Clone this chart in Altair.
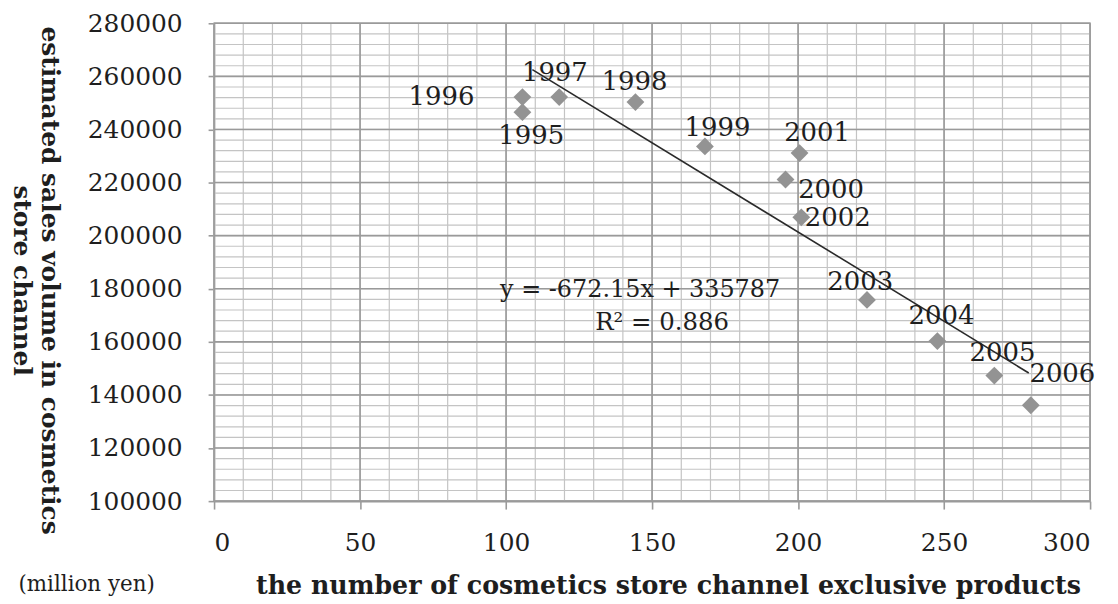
import altair as alt
import pandas as pd

years = ["1995", "1996", "1997", "1998", "1999", "2000",
         "2001", "2002", "2003", "2004", "2005", "2006"]
products = [105.6, 105.6, 118.2, 144.3, 168.1, 195.7,
            200.5, 201.1, 223.6, 247.7, 267.2, 279.7]
sales = [246500, 252200, 252200, 250300, 233600, 221150,
         231100, 206900, 175800, 160300, 147300, 136100]

# label anchor positions (data units) as placed in the original chart
label_x = [108.6, 77.9, 116.7, 144.0, 172.4, 211.3,
           206.5, 213.6, 221.3, 249.1, 270.0, 290.5]
label_y = [237600, 252200, 261200, 257800, 240700, 217100,
           238600, 206600, 182700, 169700, 155700, 147900]

slope = -672.15
intercept = 335787
trend_x = [109, 279]
eq_lines = ["y = -672.15x + 335787", "R\u00b2 = 0.886"]

x_major = [0, 50, 100, 150, 200, 250, 300]
y_major = [100000, 120000, 140000, 160000, 180000, 200000, 220000, 240000, 260000, 280000]
x_minor = list(range(0, 301, 10))
y_minor = list(range(100000, 280001, 4000))

FONT = "DejaVu Serif"
W, H = 880, 480

pts = pd.DataFrame({"year": years, "x": products, "y": sales})
lab = pd.DataFrame({"year": years, "lx": label_x, "ly": label_y})
trend = pd.DataFrame({"x": trend_x, "y": [slope * v + intercept for v in trend_x]})

xs = alt.Scale(domain=[0, 300], nice=False)
ys = alt.Scale(domain=[100000, 280000], nice=False, zero=False)

xgrid_minor = alt.Chart(pd.DataFrame({"v": x_minor})).mark_rule(
    color="#c4c4c4", strokeWidth=1.2).encode(x=alt.X("v:Q", scale=xs))
ygrid_minor = alt.Chart(pd.DataFrame({"v": y_minor})).mark_rule(
    color="#c4c4c4", strokeWidth=1.2).encode(y=alt.Y("v:Q", scale=ys))
xgrid_major = alt.Chart(pd.DataFrame({"v": x_major})).mark_rule(
    color="#9a9a9a", strokeWidth=1.6).encode(x=alt.X("v:Q", scale=xs))
ygrid_major = alt.Chart(pd.DataFrame({"v": y_major})).mark_rule(
    color="#9a9a9a", strokeWidth=1.6).encode(y=alt.Y("v:Q", scale=ys))

points = alt.Chart(pts).mark_point(
    shape="diamond", filled=True, color="#939393", size=320, opacity=1
).encode(
    x=alt.X("x:Q", scale=xs, axis=alt.Axis(
        values=x_major, title="the number of cosmetics store channel exclusive products",
        grid=False, tickSize=8, labelPadding=22,
        titleX=456, titleY=85, titleAlign="center", titleBaseline="middle",
        titleFontWeight="bold", titleFontSize=25.4)),
    y=alt.Y("y:Q", scale=ys, axis=alt.Axis(
        values=y_major, format="d", grid=False, tickSize=6, labelPadding=26,
        title=["estimated sales volume in cosmetics", "store channel"],
        titleAngle=90, titleX=-165, titleY=258, titleAlign="center",
        titleBaseline="middle", titleLineHeight=28,
        titleFontWeight="bold", titleFontSize=25)),
)

trend_line = alt.Chart(trend).mark_line(color="#2a2a2a", strokeWidth=1.6).encode(
    x=alt.X("x:Q", scale=xs), y=alt.Y("y:Q", scale=ys))

labels = alt.Chart(lab).mark_text(
    font=FONT, fontSize=26, color="#1e1e1e", align="center", baseline="middle"
).encode(x=alt.X("lx:Q", scale=xs), y=alt.Y("ly:Q", scale=ys), text="year:N")

eq1 = alt.Chart(pd.DataFrame({"t": [eq_lines[0]]})).mark_text(
    font=FONT, fontSize=24, color="#1e1e1e", align="center", baseline="middle"
).encode(x=alt.value(428), y=alt.value(268), text="t:N")
eq2 = alt.Chart(pd.DataFrame({"t": [eq_lines[1]]})).mark_text(
    font=FONT, fontSize=24.5, color="#1e1e1e", align="center", baseline="middle"
).encode(x=alt.value(450), y=alt.value(301), text="t:N")

unit = alt.Chart(pd.DataFrame({"t": ["(million yen)"]})).mark_text(
    font=FONT, fontSize=21.5, color="#1e1e1e", align="center", baseline="middle"
).encode(x=alt.value(-128), y=alt.value(564), text="t:N")

chart = alt.layer(
    xgrid_minor, ygrid_minor, xgrid_major, ygrid_major,
    trend_line, points, labels, eq1, eq2, unit
).properties(
    width=W, height=H,
    autosize=alt.AutoSizeParams(type="none"),
    padding={"left": 207, "top": 14, "right": 20, "bottom": 100},
).configure_view(
    stroke="#9a9a9a", strokeWidth=1.6
).configure_axis(
    labelFont=FONT, labelFontSize=25, labelColor="#1e1e1e",
    titleFont=FONT, titleColor="#1e1e1e",
    domainColor="#9a9a9a", domainWidth=1.6, tickColor="#9a9a9a", tickWidth=1.6,
)

chart.save("out.html", embed_options={"renderer": "svg", "actions": False})
